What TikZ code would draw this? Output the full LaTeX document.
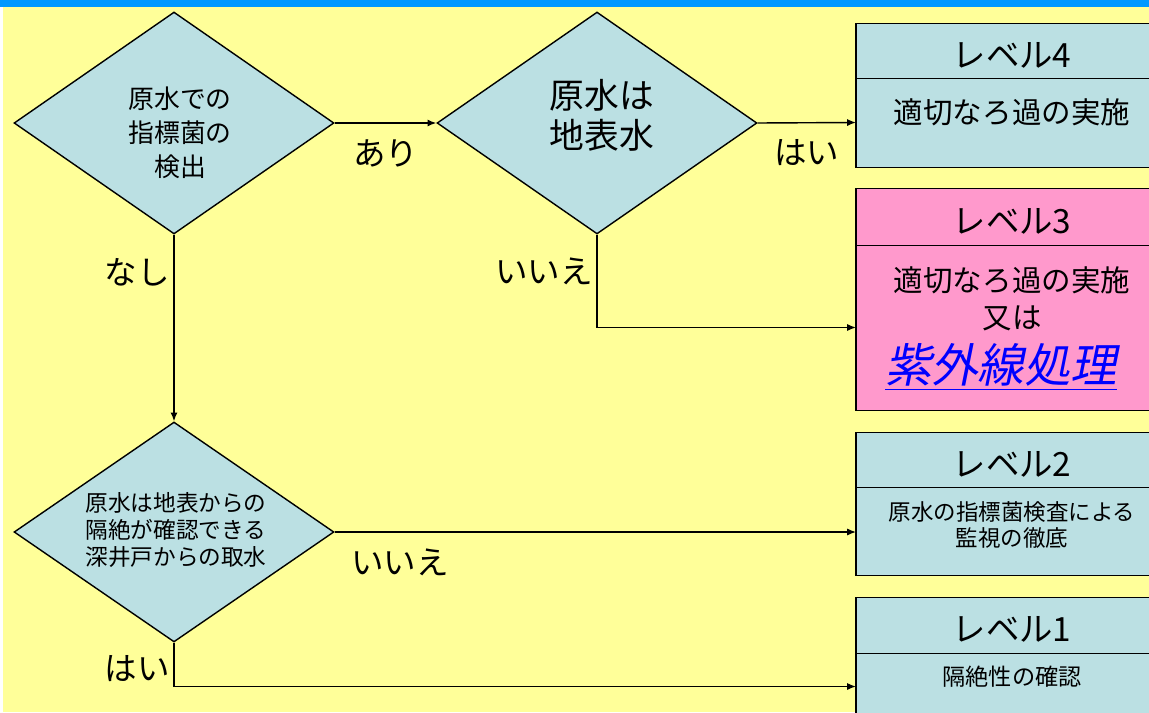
\documentclass[tikz,border=0pt]{standalone}
\usepackage{fontspec}
\setmainfont{Noto Sans CJK JP}
\newfontfamily\slantjp[FakeSlant=0.2]{Noto Sans CJK JP}
\usetikzlibrary{
    shapes.geometric,
    arrows.meta
}
\definecolor{bgyellow}{HTML}{FFFF99}
\definecolor{barblue}{HTML}{0099FF}
\definecolor{boxblue}{HTML}{BBE0E3}
\definecolor{boxpink}{HTML}{FF99CC}
\definecolor{linkblue}{HTML}{0000FF}
\tikzset{
    question/.style={diamond, draw, fill=boxblue, inner sep=0pt,
        minimum width=6.4cm, minimum height=4.44cm},
    qtext/.style={align=center, inner sep=0pt},
    levelhead/.style={rectangle, anchor=west, minimum width=7cm, inner sep=0pt},
    levelbody/.style={rectangle, anchor=west, minimum width=7cm, inner sep=0pt},
    edge/.style={draw, line width=0.8pt},
    htext/.style={font=\fontsize{19}{22}\selectfont, inner sep=0pt},
    btext/.style={align=center, inner sep=0pt},
    arr/.style={-{Latex[length=5pt,width=4pt]}},
    answer/.style={font=\fontsize{18.5}{22}\selectfont, inner sep=2pt}
}

\begin{document}
\begin{tikzpicture}[x=0.02cm, y=-0.02cm, line width=0.8pt]
            \useasboundingbox (0,0) rectangle (1149,713);
            \clip (0,0) rectangle (1149,713);
            \fill[white] (0,0) rectangle (1149,713);
            \fill[bgyellow] (3,0) rectangle (1149,712);
            \fill[barblue] (0,0) rectangle (1149,7);

            % questions
            \node[question] (d1) at (174,123) {};
            \node[qtext, font=\fontsize{14.7}{19.3}\selectfont] (q1) at (180,133) {原水での\\指標菌の\\検出};
            \node[question] (d2) at (597,123) {};
            \node[qtext, font=\fontsize{19.8}{22.7}\selectfont] (q2) at (602,115) {原水は\\地表水};
            \node[question, minimum height=4.4cm] (d3) at (174,532) {};
            \node[qtext, font=\fontsize{12.9}{15.6}\selectfont] (q3) at (176,530) {原水は地表からの\\隔絶が確認できる\\深井戸からの取水};

            % levels (right side runs off the slide)
            \node[levelhead, fill=boxblue, minimum height=1.08cm] (lv4h) at (856,51) {};
            \node[levelbody, fill=boxblue, minimum height=1.78cm] (lv4) at (856,122.5) {};
            \draw (lv4h.north east) -- (lv4h.north west) -- (lv4.south west) -- (lv4.south east);
            \draw (lv4h.south west) -- (lv4h.south east);
            \node[htext] (h4) at (1012,55) {レベル4};
            \node[btext, font=\fontsize{16.8}{20}\selectfont] (t4) at (1012,112) {適切なろ過の実施};

            \node[levelhead, fill=boxpink, minimum height=1.12cm] (lv3h) at (856,217) {};
            \node[levelbody, fill=boxpink, minimum height=3.3cm] (lv3) at (856,327.5) {};
            \draw (lv3h.north east) -- (lv3h.north west) -- (lv3.south west) -- (lv3.south east);
            \draw (lv3h.south west) -- (lv3h.south east);
            \node[htext] (h3) at (1012,221) {レベル3};
            \node[btext, font=\fontsize{16.8}{20}\selectfont] (t3a) at (1012,280) {適切なろ過の実施};
            \node[btext, font=\fontsize{16.8}{20}\selectfont] (t3b) at (1012,318) {又は};
            \node[btext, font=\fontsize{26.4}{30}\selectfont\slantjp, text=linkblue] (t3c) at (1001,367) {\underline{紫外線処理}};

            \node[levelhead, fill=boxblue, minimum height=1.08cm] (lv2h) at (856,460) {};
            \node[levelbody, fill=boxblue, minimum height=1.76cm] (lv2) at (856,531) {};
            \draw (lv2h.north east) -- (lv2h.north west) -- (lv2.south west) -- (lv2.south east);
            \draw (lv2h.south west) -- (lv2h.south east);
            \node[htext] (h2) at (1012,464) {レベル2};
            \node[btext, font=\fontsize{12.8}{14.7}\selectfont] (t2) at (1012,525) {原水の指標菌検査による\\監視の徹底};

            \node[levelhead, fill=boxblue, minimum height=1.1cm] (lv1h) at (856,625.5) {};
            \node[levelbody, fill=boxblue, minimum height=1.34cm] (lv1) at (856,686.5) {};
            \draw (lv1h.north east) -- (lv1h.north west) -- (lv1.south west) -- (lv1.south east);
            \draw (lv1h.south west) -- (lv1h.south east);
            \node[htext] (h1) at (1012,629) {レベル1};
            \node[btext, font=\fontsize{13.2}{15}\selectfont] (t1) at (1012,677) {隔絶性の確認};

            % connectors
            \draw[arr] (d1.east) -- (d2.west) node[answer, midway, yshift=-0.6cm] {あり};
            \draw[arr] (d2.east) -- (lv4.west) node[answer, midway, yshift=-0.6cm] {はい};
            \draw[arr] (d2.south) |- (lv3.west) node[answer, pos=0.2, anchor=east] {いいえ};
            \draw[arr] (d1.south) -- (d3.north) node[answer, pos=0.2, anchor=east] {なし};
            \draw[arr] (d3.east) -- (d3.east -| lv2.west) node[answer, pos=0.125, yshift=-0.6cm] {いいえ};
            \draw[arr] (d3.south) |- (lv1.west) node[answer, pos=0.3, anchor=east] {はい};
        \end{tikzpicture}
\end{document}
